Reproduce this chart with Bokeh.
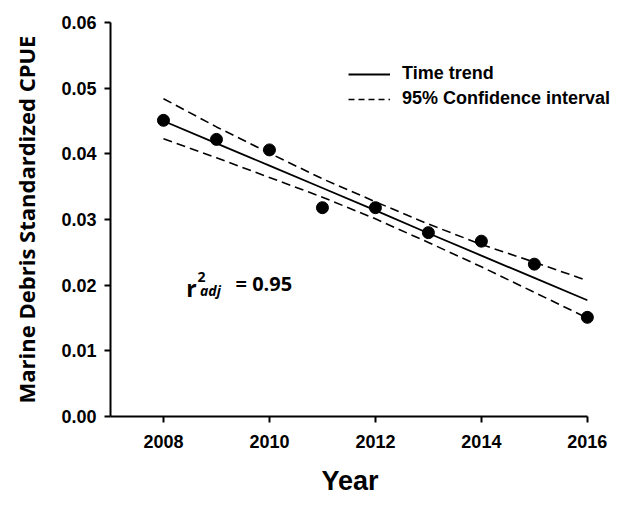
from bokeh.plotting import figure
from bokeh.models import Range1d, FixedTicker, PrintfTickFormatter, Legend, LegendItem, Label, Title
from bokeh.embed import file_html
from bokeh.resources import INLINE

# ---- data ----
years = [2008, 2009, 2010, 2011, 2012, 2013, 2014, 2015, 2016]
cpue = [0.0451, 0.0422, 0.0406, 0.0318, 0.0318, 0.0280, 0.0267, 0.0232, 0.0151]
trend = [0.0450, 0.0416, 0.0382, 0.0348, 0.0314, 0.0279, 0.0245, 0.0211, 0.0177]
ci_upper = [0.0484, 0.0441, 0.0401, 0.0362, 0.0327, 0.0293, 0.0262, 0.0235, 0.0207]
ci_lower = [0.0423, 0.0394, 0.0364, 0.0334, 0.0301, 0.0265, 0.0228, 0.0189, 0.0150]
x_ticks = [2008, 2010, 2012, 2014, 2016]
y_ticks = [0.00, 0.01, 0.02, 0.03, 0.04, 0.05, 0.06]
legend_labels = ["Time trend", "95% Confidence interval"]
x_title = "Year"
y_title = "Marine Debris Standardized CPUE"

p = figure(width=630, height=508, output_backend="svg", toolbar_location=None,
           x_range=Range1d(2007, 2016.55), y_range=Range1d(0, 0.06),
           min_border_left=110, min_border_right=14, min_border_top=22,
           min_border_bottom=91)
p.outline_line_color = None
p.xgrid.visible = False
p.ygrid.visible = False
p.background_fill_color = "white"

black = "#000000"
p.line(years, trend, line_color=black, line_width=1.8)
p.line(years, ci_upper, line_color=black, line_width=1.6, line_dash="9 5")
p.line(years, ci_lower, line_color=black, line_width=1.6, line_dash="9 5")
p.scatter(years, cpue, size=12, fill_color=black, line_color=black)

# legend proxies (a single undefined point each: nothing drawn, only the swatch)
nan = float("nan")
leg_solid = p.line([years[0]], [nan], line_color=black, line_width=1.8)
leg_dash = p.line([years[0]], [nan], line_color=black, line_width=1.6, line_dash="6 4")

# axes
for ax in (p.xaxis[0], p.yaxis[0]):
    ax.axis_line_width = 2
    ax.axis_line_color = black
    ax.major_tick_line_width = 2
    ax.major_tick_line_color = black
    ax.major_tick_out = 6
    ax.major_tick_in = 0
    ax.minor_tick_line_color = None
    ax.major_label_text_font = "Liberation Sans"
    ax.major_label_text_font_style = "bold"
    ax.major_label_text_font_size = "18px"
    ax.major_label_text_color = black
    ax.axis_label_text_font_style = "bold"
    ax.axis_label_text_color = black

p.xaxis.ticker = FixedTicker(ticks=x_ticks)
p.xaxis.bounds = (2007, 2016)
p.xaxis.major_label_standoff = 12

p.yaxis.ticker = FixedTicker(ticks=y_ticks)
p.yaxis.formatter = PrintfTickFormatter(format="%.2f")
p.yaxis.bounds = (0, 0.06)
p.yaxis.major_label_standoff = 8
p.yaxis.axis_label = y_title
p.yaxis.axis_label_text_font = "Open Sans"
p.yaxis.axis_label_text_font_size = "22px"
p.yaxis.axis_label_standoff = 17

# x-axis title, centred under the drawn axis line (2007-2016)
p.add_layout(Title(text=x_title, align="left", offset=211, text_font="Liberation Sans",
                   text_font_style="bold", text_font_size="27px", text_color=black,
                   standoff=26), "below")

# legend
legend = Legend(items=[LegendItem(label=legend_labels[0], renderers=[leg_solid]),
                       LegendItem(label=legend_labels[1], renderers=[leg_dash])],
                location=(238, 307), orientation="vertical")
legend.border_line_color = None
legend.background_fill_alpha = 0
legend.padding = 0
legend.margin = 0
legend.spacing = 4
legend.glyph_width = 42
legend.glyph_height = 20
legend.label_height = 20
legend.label_standoff = 12
legend.label_text_font = "Liberation Sans"
legend.label_text_font_style = "bold"
legend.label_text_font_size = "18px"
legend.label_text_color = black
p.add_layout(legend, "center")

# r^2 adj annotation
font = "Open Sans"
p.add_layout(Label(x=2008.43, y=0.0196, text="r", text_font=font, text_font_style="bold",
                   text_font_size="23px", text_baseline="alphabetic", text_color=black))
p.add_layout(Label(x=2008.64, y=0.0213, text="2", text_font=font, text_font_style="bold",
                   text_font_size="14px", text_baseline="alphabetic", text_color=black))
p.add_layout(Label(x=2008.69, y=0.0192, text="adj", text_font=font, text_font_style="bold italic",
                   text_font_size="14px", text_baseline="alphabetic", text_color=black))
p.add_layout(Label(x=2009.36, y=0.0202, text="= 0.95", text_font=font, text_font_style="bold",
                   text_font_size="20px", text_baseline="alphabetic", text_color=black))

open("out.html", "w").write(file_html(p, INLINE))
